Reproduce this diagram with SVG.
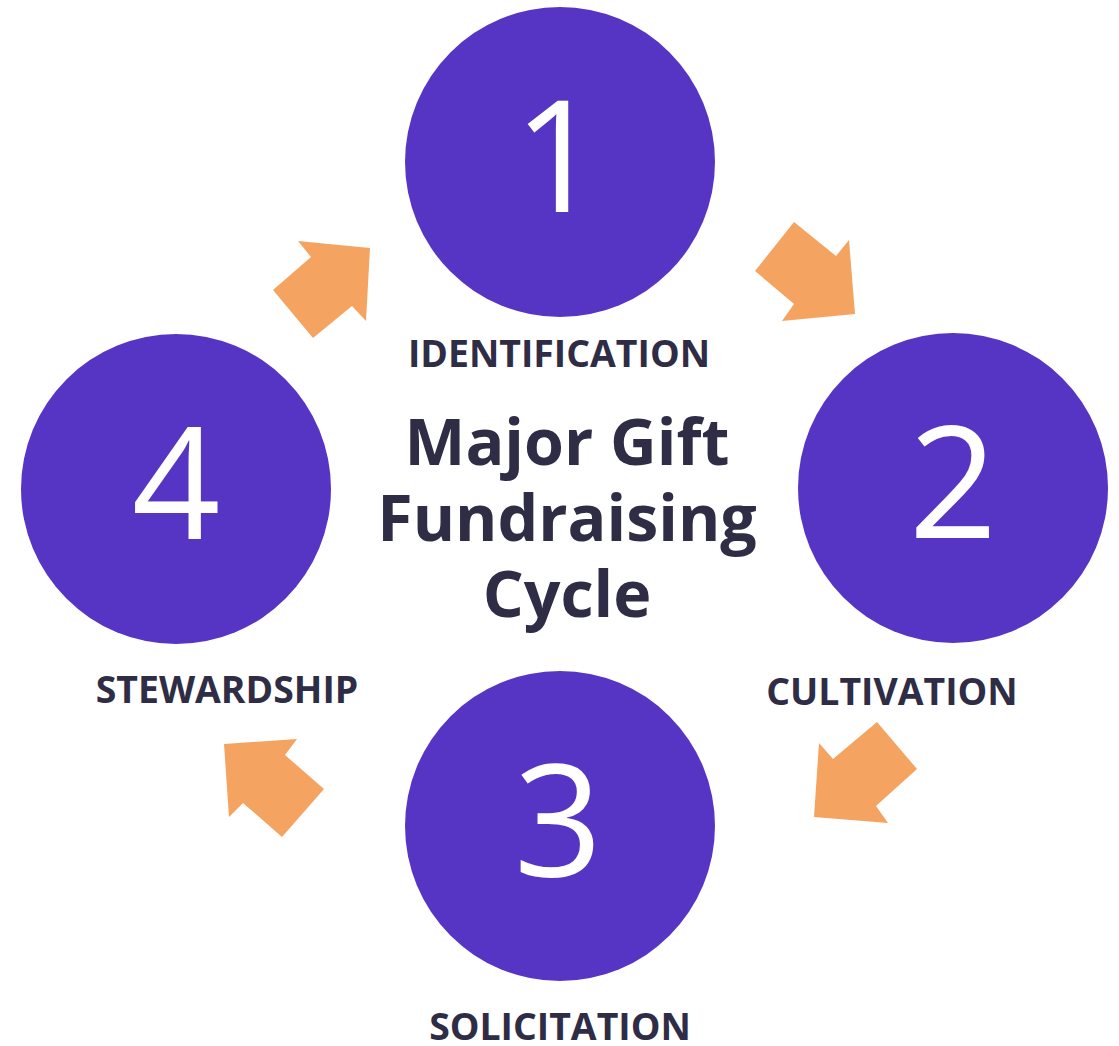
<svg xmlns="http://www.w3.org/2000/svg" width="1119" height="1046" viewBox="0 0 1119 1046">
  <style>
    .step { fill: #5735c4; }
    .num { fill: #ffffff; font-family: "Open Sans", "Liberation Sans", sans-serif; font-weight: 400; font-size: 155px; text-anchor: middle; }
    .label { fill: #2f2d45; font-family: "Open Sans", "Liberation Sans", sans-serif; font-weight: 700; font-size: 37.4px; text-anchor: middle; }
    .title { fill: #2f2d45; font-family: "Open Sans", "Liberation Sans", sans-serif; font-weight: 700; font-size: 64.5px; text-anchor: middle; }
    .arrow { fill: #f4a460; }
  </style>
  <rect width="1119" height="1046" fill="#ffffff"/>

  <g id="connectors">
    <polygon class="arrow" points="794,222 836,256 849,240 855,314 782,321 794,304 755,271"/>
    <polygon class="arrow" points="877,722 917,769 876,806 888,823 814,817 819,743 833,759"/>
    <polygon class="arrow" points="224,744 297,739 285,755 324,789 282,837 243,803 229,817"/>
    <polygon class="arrow" points="298,241 370,248 366,321 352,306 313,338 273,290 311,257"/>
  </g>

  <g id="step-1">
    <circle class="step" cx="560" cy="162" r="155"/>
    <text class="num" x="558" y="212">1</text>
    <text class="label" x="559" y="367">IDENTIFICATION</text>
  </g>
  <g id="step-2">
    <circle class="step" cx="953" cy="488" r="155"/>
    <text class="num" x="953" y="538">2</text>
    <text class="label" x="892" y="705">CULTIVATION</text>
  </g>
  <g id="step-3">
    <circle class="step" cx="560" cy="826" r="155"/>
    <text class="num" x="558" y="876">3</text>
    <text class="label" x="560" y="1040">SOLICITATION</text>
  </g>
  <g id="step-4">
    <circle class="step" cx="176" cy="489" r="155"/>
    <text class="num" x="176" y="539">4</text>
    <text class="label" x="227" y="703">STEWARDSHIP</text>
  </g>

  <g id="title">
    <text class="title" x="567" y="465">Major Gift</text>
    <text class="title" x="567" y="541">Fundraising</text>
    <text class="title" x="567" y="617">Cycle</text>
  </g>
</svg>
